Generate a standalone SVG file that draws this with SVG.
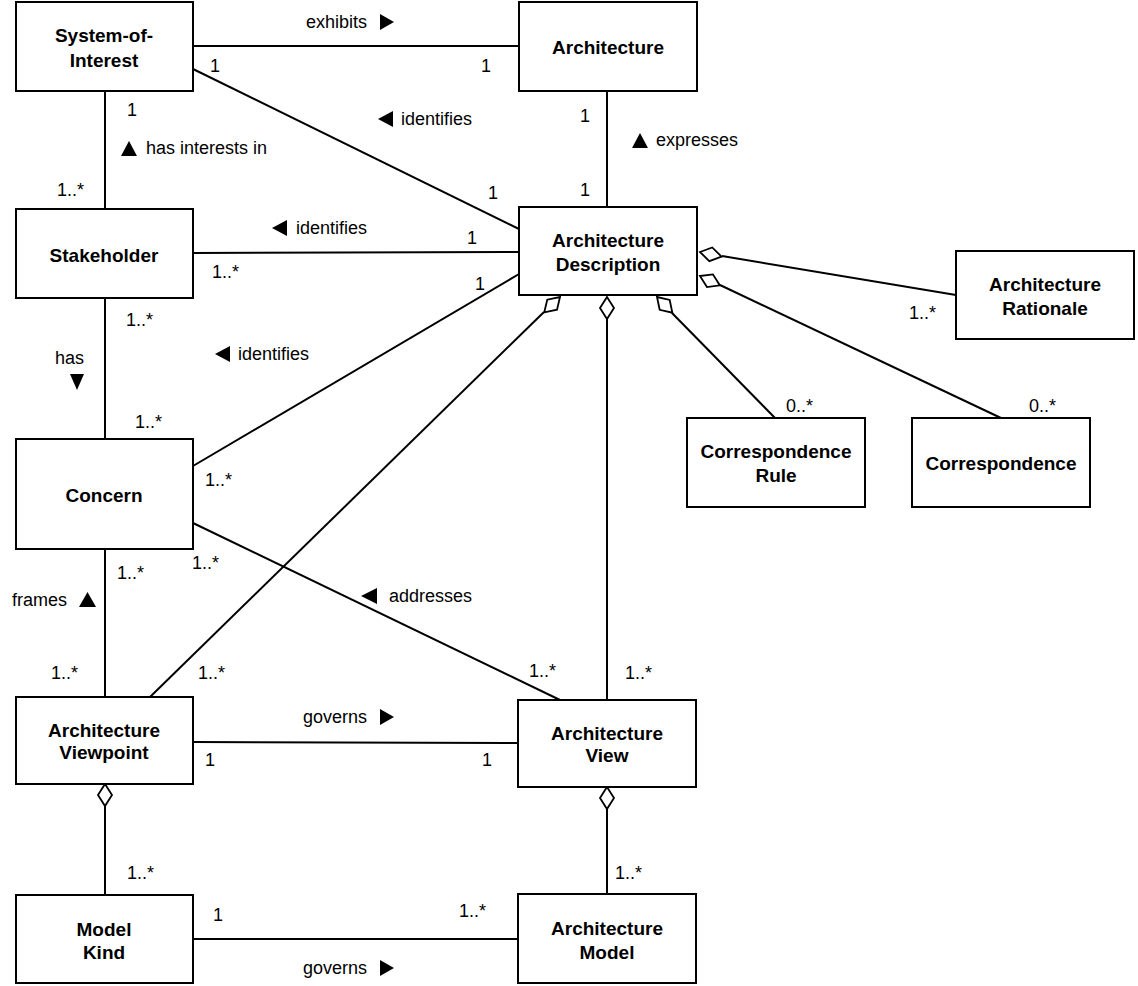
<svg xmlns="http://www.w3.org/2000/svg" width="1138" height="986" viewBox="0 0 1138 986">
<style>
.n rect{fill:#fff;stroke:#000;stroke-width:2}
.n text{font-family:"Liberation Sans",Arial,sans-serif;font-weight:bold;font-size:19px;text-anchor:middle;fill:#000}
.c line{stroke:#000;stroke-width:2}
.d{fill:#fff;stroke:#000;stroke-width:1.8}
.t{font-family:"Liberation Sans",Arial,sans-serif;font-size:18px;fill:#000}
.tri{fill:#000}
</style>
<defs><path id="dia" class="d" d="M0,0 L11,-7 L22,0 L11,7 Z"/></defs>
<rect width="1138" height="986" fill="#fff"/>
<g class="c">
<line x1="193" y1="46" x2="519" y2="46"/>
<line x1="193" y1="69" x2="519" y2="229"/>
<line x1="105" y1="91" x2="105" y2="209"/>
<line x1="607" y1="91" x2="607" y2="207"/>
<line x1="193" y1="253" x2="519" y2="252"/>
<line x1="193" y1="466" x2="519" y2="274"/>
<line x1="105" y1="298" x2="105" y2="439"/>
<line x1="193" y1="523" x2="560" y2="700"/>
<line x1="105" y1="549" x2="105" y2="697"/>
<line x1="544" y1="312" x2="150" y2="697"/>
<line x1="607" y1="319" x2="607" y2="700"/>
<line x1="672" y1="313" x2="775" y2="418"/>
<line x1="722" y1="256" x2="956" y2="295"/>
<line x1="720" y1="285" x2="1001" y2="418"/>
<line x1="193" y1="742" x2="518" y2="743"/>
<line x1="105" y1="806" x2="105" y2="895"/>
<line x1="607" y1="809" x2="607" y2="894"/>
<line x1="193" y1="939" x2="518" y2="939"/>
<use href="#dia" transform="translate(560,297) rotate(135.7)"/>
<use href="#dia" transform="translate(607,297) rotate(90)"/>
<use href="#dia" transform="translate(657,297) rotate(45.7)"/>
<use href="#dia" transform="translate(700,252) rotate(12)"/>
<use href="#dia" transform="translate(700,276) rotate(25.3)"/>
<use href="#dia" transform="translate(105,784) rotate(90)"/>
<use href="#dia" transform="translate(607,787) rotate(90)"/>
</g>
<g id="labels">
<text class="t" x="306" y="28">exhibits</text><polygon class="tri" points="380,14 394,22 380,30"/>
<text class="t" x="401" y="125">identifies</text><polygon class="tri" points="393,111 378,119 393,127"/>
<text class="t" x="146" y="154">has interests in</text><polygon class="tri" points="121,156 129,141 137,156"/>
<text class="t" x="656" y="146">expresses</text><polygon class="tri" points="632,148 640,133 648,148"/>
<text class="t" x="296" y="234">identifies</text><polygon class="tri" points="287,220 272,228 287,236"/>
<text class="t" x="238" y="360">identifies</text><polygon class="tri" points="230,346 215,354 230,362"/>
<text class="t" x="55" y="364">has</text><polygon class="tri" points="70,374 84,374 77,390"/>
<text class="t" x="12" y="606">frames</text><polygon class="tri" points="79,607 87.5,592 96,607"/>
<text class="t" x="389" y="602">addresses</text><polygon class="tri" points="377,588 361,596 377,604"/>
<text class="t" x="303" y="723">governs</text><polygon class="tri" points="380,709 394,717 380,725"/>
<text class="t" x="303" y="974">governs</text><polygon class="tri" points="380,960 394,968 380,976"/>
<text class="t" x="210" y="72">1</text><text class="t" x="481" y="72">1</text>
<text class="t" x="127" y="116">1</text><text class="t" x="57" y="196">1..*</text>
<text class="t" x="488" y="199">1</text><text class="t" x="580" y="122">1</text><text class="t" x="580" y="196">1</text>
<text class="t" x="467" y="244">1</text><text class="t" x="212" y="278">1..*</text>
<text class="t" x="475" y="290">1</text>
<text class="t" x="126" y="326">1..*</text><text class="t" x="135" y="428">1..*</text>
<text class="t" x="205" y="486">1..*</text>
<text class="t" x="117" y="579">1..*</text><text class="t" x="192" y="569">1..*</text>
<text class="t" x="51" y="679">1..*</text><text class="t" x="198" y="679">1..*</text>
<text class="t" x="529" y="677">1..*</text><text class="t" x="625" y="679">1..*</text>
<text class="t" x="909" y="319">1..*</text>
<text class="t" x="786" y="412">0..*</text><text class="t" x="1029" y="412">0..*</text>
<text class="t" x="205" y="766">1</text><text class="t" x="482" y="766">1</text>
<text class="t" x="127" y="879">1..*</text><text class="t" x="615" y="879">1..*</text>
<text class="t" x="213" y="921">1</text><text class="t" x="459" y="917">1..*</text>
</g>
<g id="system-of-interest" class="n"><rect x="16" y="2" width="177" height="89"/><text x="104" y="42">System-of-</text><text x="104" y="67">Interest</text></g>
<g id="architecture" class="n"><rect x="519" y="2" width="178" height="89"/><text x="608" y="54">Architecture</text></g>
<g id="stakeholder" class="n"><rect x="16" y="209" width="177" height="89"/><text x="104" y="262">Stakeholder</text></g>
<g id="architecture-description" class="n"><rect x="519" y="207" width="178" height="88"/><text x="608" y="247">Architecture</text><text x="608" y="271">Description</text></g>
<g id="architecture-rationale" class="n"><rect x="956" y="251" width="178" height="88"/><text x="1045" y="291">Architecture</text><text x="1045" y="315">Rationale</text></g>
<g id="correspondence-rule" class="n"><rect x="687" y="418" width="178" height="89"/><text x="776" y="458">Correspondence</text><text x="776" y="482">Rule</text></g>
<g id="correspondence" class="n"><rect x="912" y="418" width="178" height="89"/><text x="1001" y="470">Correspondence</text></g>
<g id="concern" class="n"><rect x="16" y="439" width="177" height="110"/><text x="104" y="502">Concern</text></g>
<g id="architecture-viewpoint" class="n"><rect x="16" y="697" width="177" height="87"/><text x="104" y="737">Architecture</text><text x="104" y="759">Viewpoint</text></g>
<g id="architecture-view" class="n"><rect x="518" y="700" width="178" height="87"/><text x="607" y="740">Architecture</text><text x="607" y="762">View</text></g>
<g id="model-kind" class="n"><rect x="16" y="895" width="177" height="88"/><text x="104" y="936">Model</text><text x="104" y="959">Kind</text></g>
<g id="architecture-model" class="n"><rect x="518" y="894" width="178" height="89"/><text x="607" y="935">Architecture</text><text x="607" y="959">Model</text></g>
</svg>
